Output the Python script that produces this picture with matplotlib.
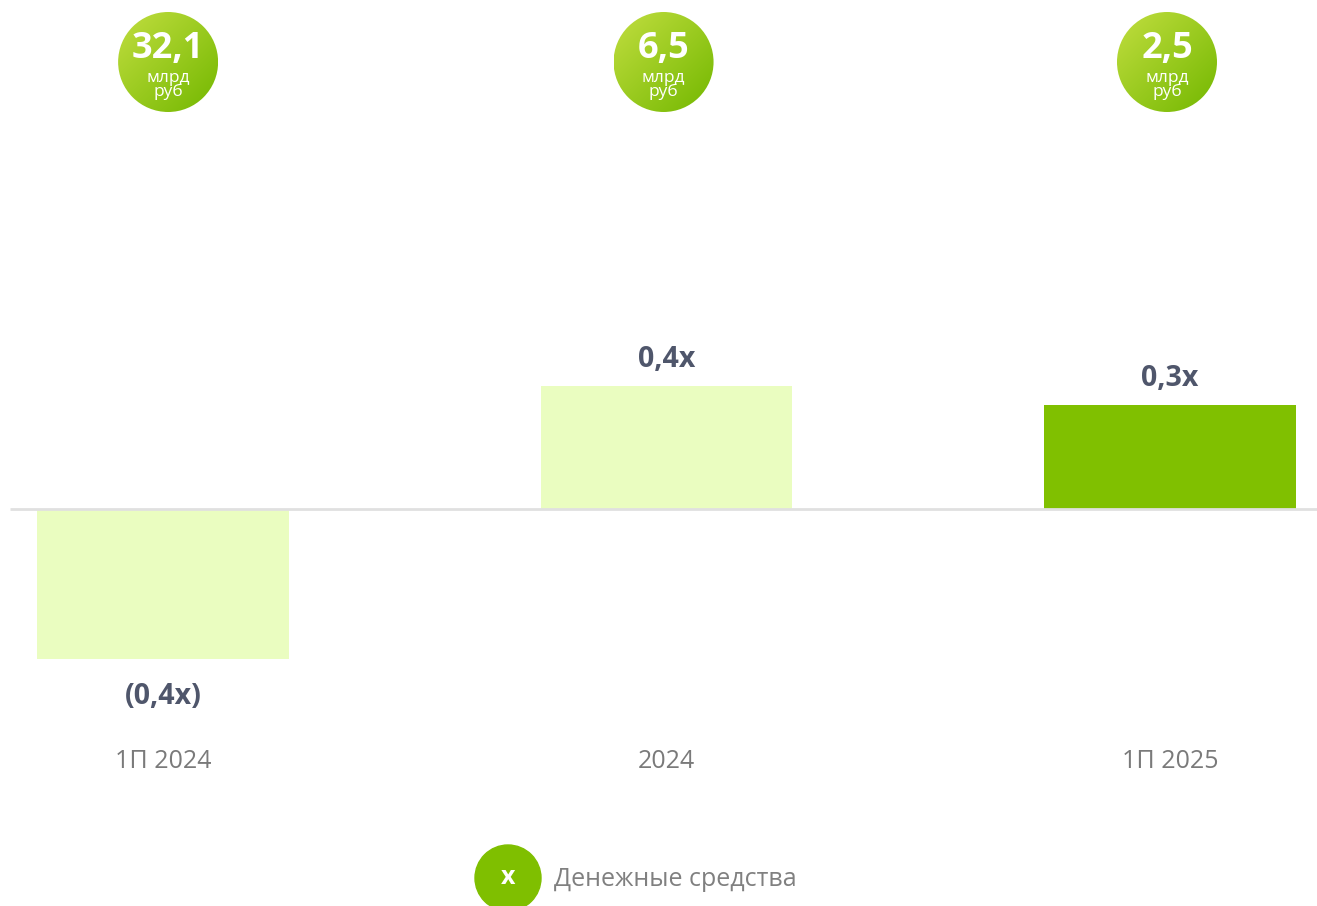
import numpy as np
import matplotlib.pyplot as plt
from matplotlib.patches import Circle

plt.rcParams['font.family'] = ['Open Sans', 'DejaVu Sans']

categories = ["1П 2024", "2024", "1П 2025"]
ratios = [-0.44, 0.362, 0.305]
ratio_labels = ["(0,4x)", "0,4x", "0,3x"]
cash = ["32,1", "6,5", "2,5"]
cash_unit = "млрд\nруб"
bar_colors = ["#eafdc0", "#eafdc0", "#80c000"]
legend_label = "Денежные средства"

W, H = 1317, 906
fig = plt.figure(figsize=(W / 100, H / 100), dpi=100)
ax = fig.add_axes([0, 0, 1, 1])
ax.set_xlim(-0.324, 2.292)
ax.set_ylim(-1.168, 1.497)
ax.axis("off")

x = np.arange(len(categories))
ax.bar(x, ratios, width=0.5, color=bar_colors, zorder=2)
ax.hlines(0, -0.304, 2.292, color="#e0e0e0", lw=2, zorder=3)

for xi, v, lab in zip(x, ratios, ratio_labels):
    off = 8.5 if v >= 0 else -17
    ax.annotate(lab, (xi, v), xytext=(0, off), textcoords="offset points",
                ha="center", va="bottom" if v >= 0 else "top",
                fontsize=20.5, fontweight="bold", color="#4f566b")
    ax.text(xi, -0.744, categories[xi], ha="center", va="center", fontsize=18, color="#7a7a7a")

# overlay in pixel coordinates for round markers
ov = fig.add_axes([0, 0, 1, 1])
ov.set_xlim(0, W)
ov.set_ylim(H, 0)
ov.axis("off")
ov.patch.set_alpha(0)

fig.canvas.draw()
grad = np.linspace(0, 1, 200)
gx, gy = np.meshgrid(grad, grad)
t = (gx + gy) / 2
c0 = np.array([0.76, 0.87, 0.25])
c1 = np.array([0.45, 0.72, 0.0])
img = c0[None, None, :] * (1 - t[..., None]) + c1[None, None, :] * t[..., None]

r = 50
cy = 62
shift = [5, -3, -3]
for xi, val in zip(x, cash):
    px = ax.transData.transform((xi, 0))[0] + shift[xi]
    circ = Circle((px, cy), r, transform=ov.transData, facecolor="none", edgecolor="none")
    ov.add_patch(circ)
    im = ov.imshow(img, extent=(px - r, px + r, cy + r, cy - r), zorder=1)
    im.set_clip_path(circ)
    ov.text(px, cy - 13, val, ha="center", va="center", fontsize=26, fontweight="bold",
            color="white", zorder=3)
    ov.text(px, cy + 23, cash_unit, ha="center", va="center", fontsize=12.5, color="white",
            linespacing=0.75, zorder=3)

ov.set_xlim(0, W)
ov.set_ylim(H, 0)
ov.set_aspect("auto")

# legend
lx, ly = 508, 878
ov.add_patch(Circle((lx, ly), 33, color="#7fbf00", zorder=2))
ov.text(lx, ly, "x", ha="center", va="center", fontsize=18, fontweight="bold", color="white", zorder=3)
ov.text(554, ly + 2, legend_label, ha="left", va="center", fontsize=18, color="#808080")

fig.savefig("out.png", dpi=100)
